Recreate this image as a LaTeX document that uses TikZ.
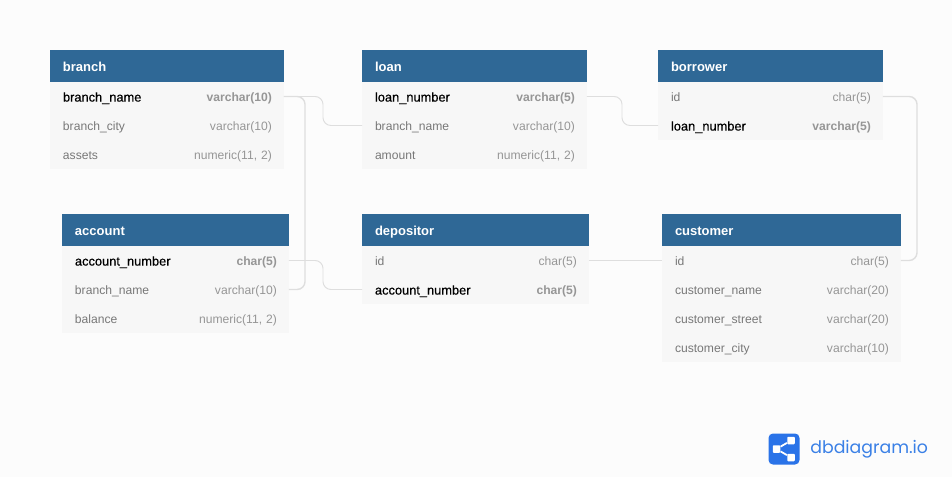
\documentclass[tikz,border=0pt]{standalone}
\usepackage{fontspec}
\setmainfont{Liberation Sans}
\newfontfamily\logofont{Poppins}
\newfontfamily\keyfont[FakeBold=0.4]{Liberation Sans}
\usetikzlibrary{positioning}
\definecolor{pagebg}{RGB}{252,252,252}
\definecolor{headblue}{RGB}{47,104,150}
\definecolor{rowgrey}{RGB}{247,247,247}
\definecolor{fieldgrey}{RGB}{120,120,120}
\definecolor{typegrey}{RGB}{150,150,150}
\definecolor{linegrey}{RGB}{222,222,222}
\definecolor{logoblue}{RGB}{42,115,232}
\definecolor{logodark}{RGB}{33,92,205}
\definecolor{logotext}{RGB}{58,128,230}
\tikzset{
  headbox/.style={fill=headblue, text=white, anchor=north west, align=left, outer sep=0pt,
    inner xsep=0.26cm, inner ysep=0pt, minimum height=0.64cm, text width=#1-0.52cm,
    text height=7.2pt, text depth=1.4pt, font=\fontsize{7.4}{9}\selectfont\bfseries},
  rowbox/.style={fill=rowgrey, text=fieldgrey, align=left, outer sep=0pt,
    inner xsep=0.26cm, inner ysep=0pt, minimum height=0.58cm, text width=#1-0.52cm,
    text height=7.2pt, text depth=1.4pt, font=\fontsize{6.9}{9}\selectfont},
  relline/.style={draw=linegrey, line width=0.55pt, rounded corners=4.5pt},
  backline/.style={relline, line width=0.8pt},
}
\newcommand{\keyfield}[2]{{\color{black}\keyfont\fontsize{7.3}{9}\selectfont #1}\hfill{\color{typegrey}\bfseries #2}\hspace*{-0.02cm}}
\newcommand{\plainfield}[2]{#1\hfill{\color{typegrey}#2}\hspace*{-0.02cm}}
\begin{document}
\begin{tikzpicture}[x=0.02cm, y=-0.02cm]
  \useasboundingbox[fill=pagebg] (0,0) rectangle (952,477);
  % branch
  \node[headbox=4.68cm] (branch) at (50,50) {branch};
  \node[rowbox=4.68cm, below=0pt of branch] (branchname) {\keyfield{branch\_name}{varchar(10)}};
  \node[rowbox=4.68cm, below=0pt of branchname] (branchcity) {\plainfield{branch\_city}{varchar(10)}};
  \node[rowbox=4.68cm, below=0pt of branchcity] (assets) {\plainfield{assets}{numeric(11, 2)}};
  % loan
  \node[headbox=4.5cm] (loan) at (362,50) {loan};
  \node[rowbox=4.5cm, below=0pt of loan] (loannumber) {\keyfield{loan\_number}{varchar(5)}};
  \node[rowbox=4.5cm, below=0pt of loannumber] (loanbranch) {\plainfield{branch\_name}{varchar(10)}};
  \node[rowbox=4.5cm, below=0pt of loanbranch] (amount) {\plainfield{amount}{numeric(11, 2)}};
  % borrower
  \node[headbox=4.5cm] (borrower) at (658,50) {borrower};
  \node[rowbox=4.5cm, below=0pt of borrower] (borrowerid) {\plainfield{id}{char(5)}};
  \node[rowbox=4.5cm, below=0pt of borrowerid] (borrowerloan) {\keyfield{loan\_number}{varchar(5)}};
  % account
  \node[headbox=4.54cm] (account) at (62,214) {account};
  \node[rowbox=4.54cm, below=0pt of account] (accountnumber) {\keyfield{account\_number}{char(5)}};
  \node[rowbox=4.54cm, below=0pt of accountnumber] (accountbranch) {\plainfield{branch\_name}{varchar(10)}};
  \node[rowbox=4.54cm, below=0pt of accountbranch] (balance) {\plainfield{balance}{numeric(11, 2)}};
  % depositor
  \node[headbox=4.54cm] (depositor) at (362,214) {depositor};
  \node[rowbox=4.54cm, below=0pt of depositor] (depositorid) {\plainfield{id}{char(5)}};
  \node[rowbox=4.54cm, below=0pt of depositorid] (depositoraccount) {\keyfield{account\_number}{char(5)}};
  % customer
  \node[headbox=4.78cm] (customer) at (662,214) {customer};
  \node[rowbox=4.78cm, below=0pt of customer] (customerid) {\plainfield{id}{char(5)}};
  \node[rowbox=4.78cm, below=0pt of customerid] (customername) {\plainfield{customer\_name}{varchar(20)}};
  \node[rowbox=4.78cm, below=0pt of customername] (customerstreet) {\plainfield{customer\_street}{varchar(20)}};
  \node[rowbox=4.78cm, below=0pt of customerstreet] (customercity) {\plainfield{customer\_city}{varchar(10)}};
  % relations
  \coordinate (branchmid) at (323,111);
  \coordinate (branchback) at (305,190);
  \coordinate (loanmid) at (622,111);
  \coordinate (custback) at (917,180);
  \coordinate (accountmid) at (323,275);
  \draw[relline] (branchname.east) -| (branchmid) |- (loanbranch.west);
  \draw[backline] (branchname.east) -| (branchback) |- (accountbranch.east);
  \draw[relline] (loannumber.east) -| (loanmid) |- (borrowerloan.west);
  \draw[backline] (borrowerid.east) -| (custback) |- (customerid.east);
  \draw[relline] (accountnumber.east) -| (accountmid) |- (depositoraccount.west);
  \draw[relline] (depositorid.east) -- (customerid.west);
  % logo
  \node[fill=logoblue, rounded corners=2.5pt, minimum size=0.62cm, inner sep=0pt, outer sep=0pt,
    path picture={\fill[logodark] (768,434) rectangle (784,464);}] (logo) at (784,449) {};
  \node[fill=white, rounded corners=0.5pt, inner sep=0pt, minimum size=0.15cm] (hub) at (776.5,449) {};
  \node[fill=white, rounded corners=0.5pt, inner sep=0pt, minimum size=0.15cm] (upper) at (791,440.5) {};
  \node[fill=white, rounded corners=0.5pt, inner sep=0pt, minimum size=0.15cm] (lower) at (791,457.5) {};
  \draw[white, line width=1pt] (upper) -- (hub) -- (lower);
  \node[text=logotext, anchor=west, inner sep=0pt, font=\logofont\fontsize{9.85}{14}\selectfont] (logoname) at (810,449) {dbdiagram.io};
\end{tikzpicture}
\end{document}
